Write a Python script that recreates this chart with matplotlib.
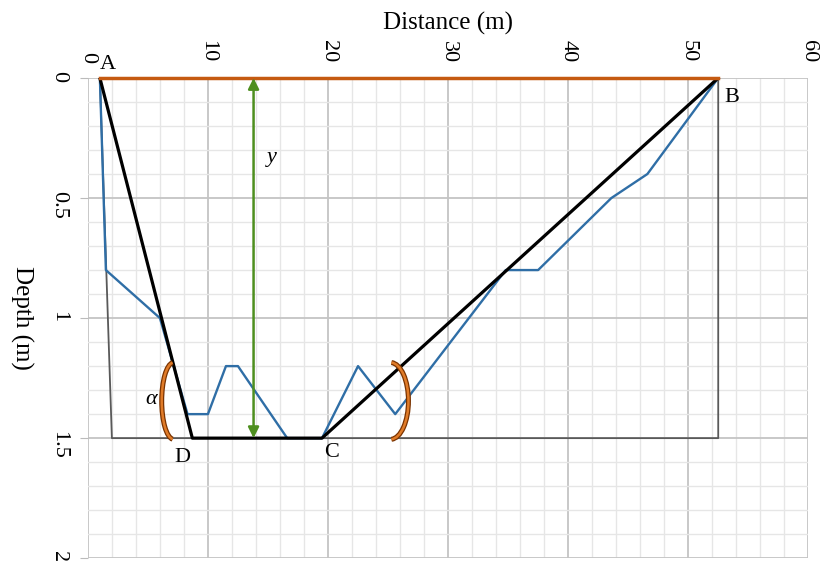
import matplotlib
matplotlib.use("Agg")
import matplotlib.pyplot as plt
from matplotlib.patches import Arc
from matplotlib.ticker import MultipleLocator

plt.rcParams['font.family'] = ['Liberation Serif', 'DejaVu Serif']

# Data (distance m, depth m)
terrain_x = [1.0, 1.5, 6.0, 8.3, 10.0, 11.5, 12.5, 16.6, 19.5, 22.5, 25.6, 34.8, 37.5, 43.6, 46.6, 52.5]
terrain_y = [0.0, 0.8, 1.0, 1.4, 1.4, 1.2, 1.2, 1.5, 1.5, 1.2, 1.4, 0.8, 0.8, 0.5, 0.4, 0.0]

trap_x = [1.0, 8.7, 19.5, 52.5]          # A, D, C, B
trap_y = [0.0, 1.5, 1.5, 0.0]

frame_x = [1.0, 2.0, 52.5, 52.5]
frame_y = [0.0, 1.5, 1.5, 0.0]

surface_x = [1.0, 52.5]
surface_y = [0.0, 0.0]

arrow_x = 13.8
arrow_y = [0.0, 1.5]

xticks = [0, 10, 20, 30, 40, 50, 60]
yticks = [0, 0.5, 1, 1.5, 2]
ytick_labels = ["0", "0.5", "1", "1.5", "2"]

fig = plt.figure(figsize=(8.29, 5.61), dpi=100)
ax = fig.add_axes([0.106, 0.005, 0.869, 0.856])

ax.set_xlim(0, 60)
ax.set_ylim(2, 0)
ax.xaxis.tick_top()
ax.xaxis.set_label_position('top')
ax.set_xticks(xticks)
ax.set_xticklabels([str(t) for t in xticks])
ax.set_yticks(yticks)
ax.set_yticklabels(ytick_labels)
ax.xaxis.set_minor_locator(MultipleLocator(2))
ax.yaxis.set_minor_locator(MultipleLocator(0.1))
ax.grid(which='major', color='#c4c4c4', lw=1.3, zorder=0)
ax.grid(which='minor', color='#e6e6e6', lw=1.0, zorder=0)
ax.set_axisbelow(True)
for s in ax.spines.values():
    s.set_visible(False)
ax.tick_params(axis='x', which='major', labelrotation=270, labelsize=16, length=0, pad=11)
ax.tick_params(axis='y', which='major', labelrotation=270, labelsize=16, length=6, color='#bbbbbb', pad=8)
ax.tick_params(which='minor', length=0)

ax.set_xlabel("Distance (m)", fontsize=18)
ax.xaxis.set_label_coords(0.5, 1.10)
ax.set_ylabel("Depth (m)", fontsize=18, rotation=270, va='center')
ax.yaxis.set_label_coords(-0.092, 0.5)

# lines
ax.plot(frame_x, frame_y, color='#595959', lw=1.3, zorder=2)
ax.plot(terrain_x, terrain_y, color='#2f6ea6', lw=1.7, zorder=3)
ax.plot(trap_x, trap_y, color='#000000', lw=2.3, zorder=4)
ax.plot(surface_x, surface_y, color='#c55a11', lw=2.5, zorder=5, clip_on=False)

ax.annotate('', xy=(arrow_x, arrow_y[1]), xytext=(arrow_x, arrow_y[0]),
            arrowprops=dict(arrowstyle='<|-|>', color='#4e8f1f', lw=1.8,
                            mutation_scale=16, shrinkA=0, shrinkB=0), zorder=6)

# angle arcs
for cx, w, th1, th2 in [(7.15, 2.0, 120, 240), (25.2, 3.0, -62, 62)]:
    ax.add_patch(Arc((cx, 1.345), w, 0.32, theta1=th1, theta2=th2,
                     color='#7a3300', lw=3.6, zorder=5))
    ax.add_patch(Arc((cx, 1.345), w, 0.32, theta1=th1, theta2=th2,
                     color='#e07b28', lw=1.8, zorder=6))

# point labels
fs = 16
ax.text(1.7, -0.015, "A", fontsize=fs, ha='center', va='bottom')
ax.text(53.6, 0.08, "B", fontsize=fs, ha='center', va='center')
ax.text(20.3, 1.56, "C", fontsize=fs, ha='center', va='center')
ax.text(7.9, 1.58, "D", fontsize=fs, ha='center', va='center')
ax.text(15.3, 0.33, "y", fontsize=fs, style='italic', ha='center', va='center')
ax.text(5.3, 1.34, "α", fontsize=fs, style='italic', ha='center', va='center')

fig.savefig("out.png", dpi=100)
